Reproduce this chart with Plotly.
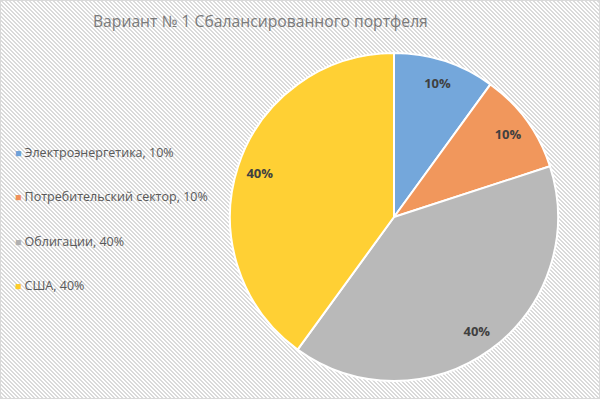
import base64
import struct
import zlib
import plotly.graph_objects as go

categories = ["Электроэнергетика", "Потребительский сектор", "Облигации", "США"]
values = [10, 10, 40, 40]
colors = ["#74a7db", "#f1975c", "#b9b9b9", "#ffd034"]
legend_colors = ["#6ea2d9", "#f0905a", "#b0b0b0", "#ffcc2a"]
title_text = "Вариант № 1 Сбалансированного портфеля"

W, H = 600, 399


def stripe_png(w, h):
    rows = bytearray()
    for y in range(h):
        rows.append(0)
        for x in range(w):
            rows.append(218 if (x - y) % 4 in (0, 1) else 255)
    def chunk(tag, data):
        c = struct.pack(">I", len(data)) + tag + data
        return c + struct.pack(">I", zlib.crc32(tag + data) & 0xFFFFFFFF)
    png = b"\x89PNG\r\n\x1a\n"
    png += chunk(b"IHDR", struct.pack(">IIBBBBB", w, h, 8, 0, 0, 0, 0))
    png += chunk(b"IDAT", zlib.compress(bytes(rows), 9))
    png += chunk(b"IEND", b"")
    return "data:image/png;base64," + base64.b64encode(png).decode()


bg_src = stripe_png(W, H)
pie_domain = dict(x=[230 / W, 558 / W], y=[1 - 381 / H, 1 - 53 / H])

fig = go.Figure()
# filled pie
fig.add_trace(go.Pie(
    labels=categories,
    values=values,
    sort=False,
    direction="clockwise",
    rotation=0,
    marker=dict(colors=colors, line=dict(color="white", width=2)),
    textinfo="none",
    domain=pie_domain,
    showlegend=False,
    hoverinfo="label+percent",
))
# transparent ring carrying the percentage labels near the rim
fig.add_trace(go.Pie(
    labels=categories,
    values=values,
    sort=False,
    direction="clockwise",
    rotation=0,
    hole=0.72,
    marker=dict(colors=["rgba(0,0,0,0)"] * len(values), line=dict(width=0)),
    texttemplate="<b>%{percent:.0%}</b>",
    textposition="inside",
    insidetextorientation="horizontal",
    textfont=dict(family="Open Sans, sans-serif", size=13, color="#404040"),
    domain=pie_domain,
    showlegend=False,
    hoverinfo="skip",
))

total = sum(values)
for i, (cat, val, col) in enumerate(zip(categories, values, legend_colors)):
    pct = round(100 * val / total)
    fig.add_annotation(
        x=13 / W, y=1 - (153 + 44 * i) / H, xref="paper", yref="paper",
        xanchor="left", yanchor="middle", showarrow=False,
        text=f"<span style='color:{col};font-size:10.5px'>■</span> {cat}, {pct}%",
        font=dict(family="Open Sans, sans-serif", size=12.5, color="#595959"),
    )

fig.update_layout(
    width=W, height=H,
    margin=dict(l=0, r=0, t=0, b=0),
    paper_bgcolor="white",
    plot_bgcolor="white",
    title=dict(
        text=title_text, x=0.434, y=1 - 22 / H, xanchor="center", yanchor="middle",
        font=dict(family="Open Sans, sans-serif", size=15.7, color="#7a7a7a"),
    ),
    images=[dict(source=bg_src, xref="paper", yref="paper", x=0, y=1,
                 sizex=1, sizey=1, sizing="stretch", layer="below",
                 xanchor="left", yanchor="top")],
    shapes=[dict(type="rect", xref="paper", yref="paper", x0=0, y0=0, x1=1, y1=1,
                 line=dict(color="#d9d9d9", width=2), fillcolor="rgba(0,0,0,0)")],
)

fig.write_html("out.html", config={"displayModeBar": False},
               post_script="document.body.style.margin='0';")
